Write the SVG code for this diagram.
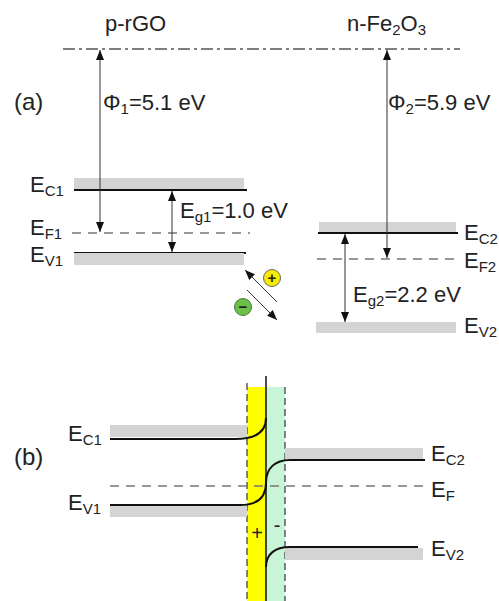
<svg xmlns="http://www.w3.org/2000/svg" width="499" height="601" viewBox="0 0 499 601">
<defs>
<style>
text{font-family:"Liberation Sans",Arial,sans-serif;fill:#222;}
.lbl{font-size:22px;}
.sub{font-size:15px;}
.head{font-size:22px;}
.band{fill:#d4d4d4;}
.lvl{stroke:#111;stroke-width:2;fill:none;}
.ef{stroke:#777;stroke-width:1.3;stroke-dasharray:9 7;fill:none;}
.arr{stroke:#333;stroke-width:1;fill:none;}
.vd{stroke:#444;stroke-width:1.3;stroke-dasharray:7 4;fill:none;}
</style>
<marker id="ah" viewBox="0 0 10 10" refX="10" refY="5" markerWidth="10" markerHeight="10" markerUnits="userSpaceOnUse" orient="auto-start-reverse">
<path d="M0,1 L10,5 L0,9 Z" fill="#111"/>
</marker>
</defs>
<rect width="499" height="601" fill="#fff"/>

<g id="titles">
<text class="head" x="105" y="31">p-rGO</text>
<text class="head" x="347" y="31">n-Fe<tspan class="sub" dy="4">2</tspan><tspan dy="-4">O</tspan><tspan class="sub" dy="4">3</tspan></text>
<text x="14" y="110" style="font-size:24px">(a)</text>
<text x="14" y="465" style="font-size:24px">(b)</text>
</g>

<g id="vacuum">
<line x1="63" y1="49" x2="460" y2="49" stroke="#555" stroke-width="1.3" stroke-dasharray="12 4 3 4"/>
</g>

<g id="rGO-a">
<rect class="band" x="74" y="178" width="170" height="12"/>
<line class="lvl" x1="74" y1="190" x2="247" y2="190"/>
<line class="ef" x1="72" y1="233" x2="250" y2="233"/>
<line class="lvl" x1="74" y1="253" x2="246" y2="253"/>
<rect class="band" x="74" y="253" width="170" height="12"/>
<text class="lbl" x="30" y="192">E<tspan class="sub" dy="4">C1</tspan></text>
<text class="lbl" x="30" y="235">E<tspan class="sub" dy="4">F1</tspan></text>
<text class="lbl" x="30" y="262">E<tspan class="sub" dy="4">V1</tspan></text>
</g>

<g id="fe2o3-a">
<rect class="band" x="319" y="222" width="137" height="11"/>
<line class="lvl" x1="318" y1="233" x2="458" y2="233"/>
<line class="ef" x1="317" y1="259" x2="458" y2="259"/>
<rect class="band" x="316" y="322" width="140" height="11"/>
<text class="lbl" x="464" y="240">E<tspan class="sub" dy="4">C2</tspan></text>
<text class="lbl" x="464" y="268">E<tspan class="sub" dy="4">F2</tspan></text>
<text class="lbl" x="464" y="333">E<tspan class="sub" dy="4">V2</tspan></text>
</g>

<g id="labels-a">
<text class="lbl" x="103" y="110">Φ<tspan class="sub" dy="4">1</tspan><tspan dy="-4">=5.1 eV</tspan></text>
<text class="lbl" x="388" y="110">Φ<tspan class="sub" dy="4">2</tspan><tspan dy="-4">=5.9 eV</tspan></text>
<text class="lbl" x="180" y="218">E<tspan class="sub" dy="4">g1</tspan><tspan dy="-4">=1.0 eV</tspan></text>
<text class="lbl" x="353" y="302">E<tspan class="sub" dy="4">g2</tspan><tspan dy="-4">=2.2 eV</tspan></text>
</g>

<g id="carriers">
<circle cx="272" cy="278" r="8.5" fill="#f5ec00" stroke="#666" stroke-width="1"/>
<text x="272" y="283" text-anchor="middle" style="font-size:15px;font-weight:bold">+</text>
<circle cx="243" cy="307" r="8.5" fill="#6cc04a" stroke="#4a7a3a" stroke-width="1"/>
<text x="243" y="312" text-anchor="middle" style="font-size:15px;font-weight:bold">−</text>
</g>

<g id="connectors">
<line class="arr" x1="100" y1="50" x2="100" y2="232" marker-start="url(#ah)" marker-end="url(#ah)"/>
<line class="arr" x1="387" y1="50" x2="387" y2="258" marker-start="url(#ah)" marker-end="url(#ah)"/>
<line class="arr" x1="172" y1="191" x2="172" y2="252" marker-start="url(#ah)" marker-end="url(#ah)"/>
<line class="arr" x1="345" y1="234" x2="345" y2="322" marker-start="url(#ah)" marker-end="url(#ah)"/>
<line class="arr" x1="277" y1="302" x2="245" y2="270" marker-end="url(#ah)"/>
<line class="arr" x1="247" y1="290" x2="277" y2="320" marker-end="url(#ah)"/>
</g>

<g id="junction-b">
<rect x="247" y="387" width="19" height="214" fill="#ffff00"/>
<rect x="266" y="387" width="19" height="214" fill="#c8f5d8"/>
<line class="vd" x1="247" y1="383" x2="247" y2="601"/>
<line class="vd" x1="285" y1="387" x2="285" y2="601"/>
<line x1="266" y1="376" x2="266" y2="601" stroke="#111" stroke-width="1.5"/>
<text x="257" y="540" text-anchor="middle" style="font-size:20px">+</text>
<text x="277" y="532" text-anchor="middle" style="font-size:20px">-</text>
</g>

<g id="rGO-b">
<rect class="band" x="110" y="425" width="137" height="12"/>
<path class="lvl" d="M110,439 L235,439 C255,439 266,432 266,418"/>
<rect class="band" x="110" y="506" width="137" height="11"/>
<path class="lvl" d="M110,505 L240,505 C258,505 266,497 266,483"/>
<text class="lbl" x="68" y="441">E<tspan class="sub" dy="4">C1</tspan></text>
<text class="lbl" x="68" y="510">E<tspan class="sub" dy="4">V1</tspan></text>
</g>

<g id="fermi-b">
<line class="ef" x1="110" y1="486" x2="424" y2="486"/>
<text class="lbl" x="431" y="497">E<tspan class="sub" dy="4">F</tspan></text>
</g>

<g id="fe2o3-b">
<rect class="band" x="285" y="448" width="138" height="11"/>
<path class="lvl" d="M266,483 C266,468 275,460 290,460 L425,460"/>
<rect class="band" x="285" y="548" width="138" height="12"/>
<path class="lvl" d="M266,567 C266,554 275,547 290,547 L418,547"/>
<text class="lbl" x="431" y="461">E<tspan class="sub" dy="4">C2</tspan></text>
<text class="lbl" x="431" y="556">E<tspan class="sub" dy="4">V2</tspan></text>
</g>
</svg>
